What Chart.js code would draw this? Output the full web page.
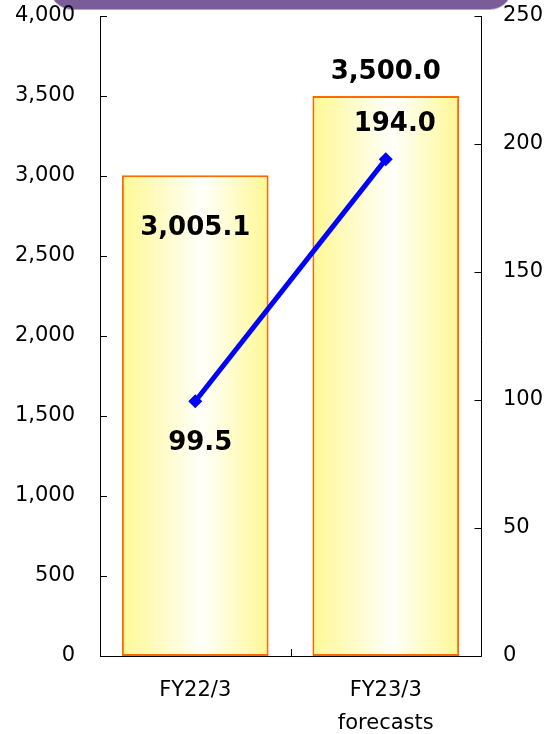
<!DOCTYPE html>
<html>
<head>
<meta charset="utf-8">
<script src="https://cdn.jsdelivr.net/npm/chart.js@4/dist/chart.umd.min.js"></script>
<style>
  html, body { margin: 0; padding: 0; background: #fff; }
  #wrap { position: relative; width: 546px; height: 734px; overflow: hidden; }
  #banner { position: absolute; left: 50px; top: -20px; width: 462px; height: 29px; z-index: 0;
            background: #7A5C99; border-radius: 0 0 22px 22px; box-shadow: 0 1px 0 #B7A5CB; }
  canvas { position: absolute; left: 0; top: 0; z-index: 1; }
</style>
</head>
<body>
<div id="wrap">
  <div id="banner"></div>
  <canvas id="c" width="546" height="734"></canvas>
</div>
<script>
// ---- data ----
const categories = [["FY22/3"], ["FY23/3", "forecasts"]];
const salesValues = [3005.1, 3500.0];
const profitValues = [99.5, 194.0];
const salesLabels = ["3,005.1", "3,500.0"];
const profitLabels = ["99.5", "194.0"];
const leftTicks = [0, 500, 1000, 1500, 2000, 2500, 3000, 3500, 4000];
const rightTicks = [0, 50, 100, 150, 200, 250];

const FONT = "'DejaVu Sans', Verdana, sans-serif";
const BAR_PCT = 0.77;

function barGradient(ctx) {
  const chart = ctx.chart;
  const xs = chart.scales.x;
  if (!xs || !chart.chartArea) return '#FFF98F';
  const cx = xs.getPixelForValue(ctx.dataIndex);
  const catW = (xs.right - xs.left) / categories.length;
  const w = catW * BAR_PCT;
  const g = chart.ctx.createLinearGradient(cx - w / 2, 0, cx + w / 2, 0);
  g.addColorStop(0, '#FFF894');
  g.addColorStop(0.55, '#FFFFFA');
  g.addColorStop(1, '#FFF894');
  return g;
}

const insideTicks = {
  id: 'insideTicks',
  afterDraw(chart) {
    const c = chart.ctx, a = chart.chartArea;
    const yl = chart.scales.y, yr = chart.scales.y1, xs = chart.scales.x;
    c.save();
    c.strokeStyle = '#000';
    c.lineWidth = 1;
    c.beginPath();
    c.moveTo(a.left + 0.5, a.top); c.lineTo(a.left + 0.5, a.bottom + 0.5);
    c.lineTo(a.right + 0.5, a.bottom + 0.5); c.lineTo(a.right + 0.5, a.top);
    leftTicks.forEach(v => {
      const y = Math.round(yl.getPixelForValue(v)) + 0.5;
      c.moveTo(a.left, y); c.lineTo(a.left + 7, y);
    });
    rightTicks.forEach(v => {
      const y = Math.round(yr.getPixelForValue(v)) + 0.5;
      c.moveTo(a.right + 0.5, y); c.lineTo(a.right - 6.5, y);
    });
    for (let i = 1; i < categories.length; i++) {
      const x = Math.round((xs.getPixelForValue(i - 1) + xs.getPixelForValue(i)) / 2) + 0.5;
      c.moveTo(x, a.bottom); c.lineTo(x, a.bottom - 7);
    }
    c.stroke();
    c.restore();
  }
};

const valueLabels = {
  id: 'valueLabels',
  afterDatasetsDraw(chart) {
    const c = chart.ctx;
    c.save();
    c.font = "bold 26px " + FONT;
    c.fillStyle = '#000';
    c.textAlign = 'center';
    c.textBaseline = 'middle';
    const bars = chart.getDatasetMeta(1).data;
    const pts = chart.getDatasetMeta(0).data;
    c.fillText(salesLabels[0], bars[0].x, bars[0].y + 53);
    c.fillText(salesLabels[1], bars[1].x, bars[1].y - 24);
    c.fillText(profitLabels[0], pts[0].x + 5, pts[0].y + 42);
    c.fillText(profitLabels[1], pts[1].x + 9, pts[1].y - 35);
    c.restore();
  }
};

function noPad(s) { s.paddingTop = 0; s.paddingBottom = 0; s.paddingLeft = 0; s.paddingRight = 0; }

new Chart(document.getElementById('c'), {
  data: {
    labels: categories,
    datasets: [
      {
        type: 'line',
        data: profitValues,
        yAxisID: 'y1',
        borderColor: '#0000FF',
        backgroundColor: '#0000FF',
        borderWidth: 5,
        pointStyle: 'rectRot',
        pointRadius: 7,
        pointBorderWidth: 0,
        order: 0
      },
      {
        type: 'bar',
        data: salesValues,
        yAxisID: 'y',
        backgroundColor: barGradient,
        borderColor: '#FF6A00',
        borderWidth: 2,
        borderSkipped: false,
        barPercentage: BAR_PCT,
        categoryPercentage: 1.0,
        order: 1
      }
    ]
  },
  options: {
    responsive: false,
    animation: false,
    devicePixelRatio: 1,
    layout: { padding: { top: 16, left: 0, right: 0, bottom: 0 } },
    plugins: { legend: { display: false }, tooltip: { enabled: false } },
    scales: {
      x: {
        position: 'bottom',
        grid: { display: false, drawTicks: false },
        border: { display: false },
        ticks: { color: '#000', font: { family: FONT, size: 21, lineHeight: 1.57 }, padding: 18, maxRotation: 0, autoSkip: false },
        afterFit(s) { s.height = 78; noPad(s); }
      },
      y: {
        position: 'left',
        min: 0, max: 4000,
        grid: { display: false, drawTicks: false },
        border: { display: false },
        afterBuildTicks(s) { s.ticks = leftTicks.map(v => ({ value: v })); },
        ticks: { color: '#000', font: { family: FONT, size: 21 }, padding: 25,
                 callback: v => v.toLocaleString('en-US') },
        afterFit(s) { s.width = 100; noPad(s); }
      },
      y1: {
        position: 'right',
        min: 0, max: 250,
        grid: { display: false, drawTicks: false },
        border: { display: false },
        afterBuildTicks(s) { s.ticks = rightTicks.map(v => ({ value: v })); },
        ticks: { color: '#000', font: { family: FONT, size: 21 }, padding: 22,
                 callback: v => String(v) },
        afterFit(s) { s.width = 65; noPad(s); }
      }
    }
  },
  plugins: [insideTicks, valueLabels]
});
</script>
</body>
</html>
